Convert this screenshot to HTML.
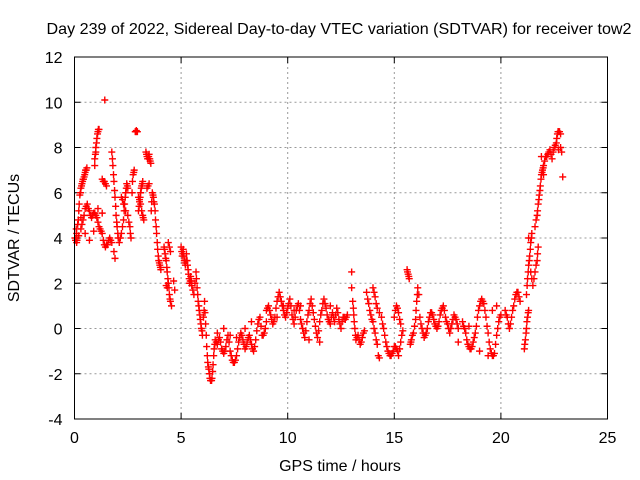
<!DOCTYPE html>
<html><head><meta charset="utf-8">
<style>
body{margin:0;background:#fff;}
svg{display:block;font-family:"Liberation Sans",sans-serif;}
</style></head>
<body>
<svg id="chart" width="640" height="480" viewBox="0 0 640 480">
<rect width="640" height="480" fill="#fff"/>
<text x="339" y="34" font-size="16" text-anchor="middle" fill="#000" textLength="585" lengthAdjust="spacingAndGlyphs">Day 239 of 2022, Sidereal Day-to-day VTEC variation (SDTVAR) for receiver tow2</text>
<g id="grid"></g>
<g id="ticks"></g>
<g id="points"></g>
<rect x="74.5" y="57" width="533" height="362" fill="none" stroke="#000" stroke-width="1"/>
<text x="340" y="471" font-size="16" text-anchor="middle">GPS time / hours</text>
<text x="0" y="0" font-size="16" text-anchor="middle" transform="translate(19,238) rotate(-90)">SDTVAR / TECUs</text>
</svg>
<script>
const xTicks=[0,5,10,15,20,25];
const yTicks=[-4,-2,0,2,4,6,8,10,12];
const segA=[[0.05,3.9],[0.1,4.2],[0.15,4.6],[0.2,5.2],[0.25,5.9],[0.3,6.2],[0.35,6.4],[0.4,6.6],[0.45,6.7],[0.5,6.9],[0.55,7.0],
[0.1,3.8],[0.2,4.1],[0.3,4.4],[0.4,4.8],[0.5,5.3],[0.6,5.5],[0.7,5.2],[0.8,4.9],[0.9,5.1],[1.0,5.0],[1.1,4.7],[1.2,4.4],[1.3,4.2],[1.35,3.9],[1.45,3.6],[1.55,3.7],[1.65,4.0],[1.75,3.8],[1.85,3.4],[1.9,3.1],
[0.3,4.9],[0.5,4.2],[0.7,3.9],[0.9,4.3],[1.1,5.3],[1.3,5.1],
[0.95,7.5],[1.0,8.0],[1.05,8.4],[1.1,8.7],[1.15,8.8],[1.0,7.8],[0.95,7.2],[1.42,10.1],[1.3,6.6],[1.4,6.5],[1.5,6.3]];
const segB=[[1.75,7.8],[1.8,7.2],[1.85,6.5],[1.9,5.8],[1.95,5.0],[2.0,4.5],[2.05,4.0],[2.1,3.8],[2.2,4.2],[2.3,4.8],[2.35,5.5],[2.4,6.0],[2.45,6.4],[2.5,6.2],[2.2,5.8],[2.3,5.5],[2.5,5.0],[2.6,4.5],[2.65,4.0],
[2.7,6.0],[2.75,6.8],[2.8,7.0],[2.85,8.7],[2.9,8.75],[2.95,8.7],[3.0,5.2],[3.05,5.6],[3.1,6.0],[3.15,6.3],[3.2,6.5],[3.0,5.8],[3.1,5.5],[3.2,5.0],[3.25,4.8],
[3.35,7.8],[3.4,7.6],[3.45,7.5],[3.5,7.7],[3.55,7.4],[3.4,6.2],[3.5,6.4],[3.6,5.2],[3.65,6.0],[3.7,5.8],[3.75,5.5],[3.8,4.8],[3.85,4.2],[3.9,3.5],[3.95,3.0],[4.0,2.8],[4.05,2.6],
[4.2,3.6],[4.25,3.3],[4.3,3.0],[4.35,2.5],[4.4,2.0],[4.45,1.5],[4.5,1.2],[4.55,1.0],[4.3,1.9],[4.4,3.8],[4.5,3.4],[4.65,2.1],[4.7,1.7]];
const segC=[[5.0,3.6],[5.05,3.2],[5.1,3.5],[5.15,3.0],[5.2,2.8],[5.25,3.3],[5.3,2.8],[5.35,2.4],[5.4,2.0],[5.45,2.3],[5.5,1.9],[5.6,1.5],[5.7,2.5],[5.75,1.8],[5.8,1.2],[5.85,0.8],[5.9,0.4],[5.95,0.0],[6.0,-0.3],[6.05,0.5],[6.1,1.2],[6.15,0.2],
[6.2,-0.8],[6.25,-1.5],[6.3,-1.8],[6.35,-2.2],[6.4,-2.3],[6.45,-2.2],[6.5,-1.6],[6.55,-0.9],[6.6,-0.5],[6.7,-0.7],[6.8,-0.4],[6.9,-0.9],[7.0,-1.1],[7.1,-0.8],[7.2,-0.3],[7.3,-1.0],[7.4,-1.4],[7.5,-1.5],[7.6,-1.2],[7.7,-0.6],[7.8,-0.2],[7.9,-0.5],[8.0,-0.9],[8.1,-0.6],[8.2,-0.3],[8.3,-0.7],[8.4,-1.0],[8.5,-0.5],[8.6,0.2],[8.7,0.5],[8.8,-0.3],[8.9,-0.2],[9.0,0.3],
[6.7,-0.2],[7.0,0.0],[7.3,-0.3],[7.6,-0.4],[8.0,0.0],[8.3,0.3]];
const segD=[[9.0,0.8],[9.1,1.0],[9.2,0.6],[9.3,0.2],[9.4,0.5],[9.5,1.2],[9.6,1.6],[9.7,1.2],[9.8,0.8],[9.9,0.5],[10.0,0.9],[10.1,1.3],[10.2,0.6],[10.3,0.2],[10.4,0.8],[10.5,1.1],[10.6,0.4],[10.7,0.0],[10.8,-0.4],[10.9,0.3],[11.0,0.8],[11.1,1.3],[11.2,0.7],[11.3,0.1],[11.4,-0.4],[11.5,0.3],[11.6,0.8],[11.7,1.3],[11.8,0.9],[11.9,0.4],[12.0,0.2],[12.1,0.7],[12.2,0.3],[12.3,0.9],[12.4,0.4],[12.5,0.0],[12.6,0.5],[12.7,0.4],[12.8,0.6],
[9.5,0.5],[9.8,1.0],[10.3,0.8],[10.6,1.0],[11.0,-0.5],[11.5,-0.6],[12.0,1.0]];
const segE=[[13.0,2.5],[13.0,1.8],[13.05,1.2],[13.1,0.6],[13.15,0.0],[13.2,-0.5],[13.3,-0.3],[13.4,-0.7],[13.5,-0.4],[13.6,-0.1],[13.7,1.6],[13.8,1.1],[13.9,0.6],[14.0,0.3],[14.1,-0.2],[14.2,-0.7],[14.25,-1.2],[14.3,-1.3],
[14.0,1.8],[14.1,1.4],[14.2,0.9],[14.4,0.5],[14.5,0.0],[14.6,-0.6],[14.7,-1.0],[14.8,-1.2],[14.9,-1.1],[15.0,-0.8],[15.1,-0.9],[15.2,-1.2],[15.3,-0.6],[15.4,-0.1],[15.0,0.5],[15.1,1.0],[15.2,0.7],[15.3,0.2],
[15.6,2.6],[15.65,2.4],[15.7,2.2],[15.75,-0.7],[15.8,-0.5],[15.9,-0.2],[16.0,0.4],[16.05,1.2],[16.1,1.8],[16.15,1.5]];
const segF=[[16.2,0.5],[16.3,0.0],[16.4,-0.4],[16.5,-0.2],[16.6,0.3],[16.7,0.7],[16.8,0.6],[16.9,0.2],[17.0,0.0],[17.1,0.3],[17.2,0.8],[17.3,1.0],[17.4,0.5],[17.5,0.2],[17.6,-0.2],[17.7,0.2],[17.8,0.6],[17.9,0.4],[18.0,0.0],
[18.2,0.3],[18.3,0.0],[18.4,-0.5],[18.5,-0.8],[18.6,-0.9],[18.7,-0.6],[18.8,-0.2],[18.9,0.5],[19.0,1.0],[19.1,1.3],[19.2,1.1],[19.3,0.5],[19.4,-0.2],[19.5,-0.9],[19.6,-1.2],[19.7,-1.1],[19.8,-0.3],[19.9,0.3],[20.0,0.6],[18.5,0.1],[19.0,-1.0],[19.4,-1.2],[19.6,0.8],[19.8,1.0],[18.0,-0.6],
[20.2,0.8],[20.3,0.5],[20.4,0.0],[20.5,0.5],[20.6,1.0],[20.7,1.5],[20.8,1.6],[20.9,1.2]];
const segG=[[21.1,-0.9],[21.15,-0.5],[21.2,0.0],[21.25,0.5],[21.3,0.8],[21.2,1.5],[21.25,2.2],[21.3,2.8],[21.35,3.2],[21.4,3.8],[21.45,4.2],[21.3,4.0],[21.4,2.5],[21.5,1.9],[21.6,2.5],[21.7,3.0],[21.75,3.6],
[21.6,4.5],[21.7,5.0],[21.75,5.5],[21.8,5.9],[21.85,6.3],[21.9,6.8],[21.95,7.0],[22.0,7.2],[21.9,7.6],[22.0,6.8],
[22.1,7.6],[22.2,7.7],[22.3,7.9],[22.4,7.5],[22.5,8.0],[22.6,8.2],[22.65,8.6],[22.7,8.7],[22.8,8.6],[22.85,7.8],[22.9,6.7],[22.7,7.9]];
const segExtra=[[0.02,4.0],[0.08,4.4],[0.12,3.9],[0.18,4.8],[0.22,5.5],[0.28,6.0],[0.33,6.3],[0.38,6.5],[0.42,6.6],[0.48,6.8],[0.52,7.0],[0.58,7.1],
[0.35,4.6],[0.45,5.0],[0.55,5.4],[0.65,5.3],[0.75,5.0],[0.85,5.0],[0.95,5.1],[1.05,4.9],[1.15,4.5],[1.25,4.3],[1.4,3.7],[1.5,3.7],[1.6,3.9],[1.7,3.9],
[0.98,7.7],[1.03,8.2],[1.08,8.6],[1.12,8.8],[1.45,6.4],[1.35,6.5],
[1.78,7.5],[1.83,6.8],[1.88,6.1],[1.93,5.4],[1.98,4.7],[2.03,4.2],[2.15,4.0],[2.25,4.5],[2.33,5.2],[2.38,5.8],[2.43,6.2],[2.48,6.3],[2.55,4.7],[2.25,5.7],[2.4,5.2],[2.62,4.2],
[2.72,6.5],[2.78,6.9],[2.88,8.7],[2.92,8.7],[3.03,5.4],[3.08,5.8],[3.13,6.2],[3.18,6.4],[3.05,5.7],[3.15,5.2],[3.22,4.9],
[3.38,7.7],[3.43,7.5],[3.48,7.6],[3.53,7.5],[3.58,7.3],[3.45,6.3],[3.62,5.6],[3.68,5.9],[3.72,5.6],[3.78,5.2],[3.83,4.5],[3.88,3.8],[3.93,3.2],[3.98,2.9],[4.03,2.7],
[4.22,3.5],[4.28,3.1],[4.33,2.7],[4.38,2.2],[4.43,1.8],[4.48,1.3],[4.35,1.8],[4.45,3.6],
[5.03,3.4],[5.08,3.3],[5.13,3.2],[5.18,2.9],[5.23,3.0],[5.28,3.0],[5.33,2.6],[5.38,2.2],[5.43,2.1],[5.48,2.1],[5.55,1.7],[5.65,2.0],[5.72,2.2],[5.78,1.5],[5.83,1.0],[5.88,0.6],[5.93,0.2],[5.98,-0.1],[6.08,0.8],[6.12,0.7],[6.18,-0.3],
[6.23,-1.2],[6.28,-1.7],[6.33,-2.0],[6.38,-2.3],[6.43,-2.3],[6.48,-1.9],[6.53,-1.2],[6.58,-0.7],[6.65,-0.6],[6.75,-0.5],[6.85,-0.6],[6.95,-1.0],[7.05,-1.0],[7.15,-0.5],[7.25,-0.6],[7.35,-1.2],[7.45,-1.5],[7.55,-1.4],[7.65,-0.9],[7.75,-0.4],[7.85,-0.3],[7.95,-0.7],[8.05,-0.8],[8.15,-0.4],[8.25,-0.5],[8.35,-0.9],[8.45,-0.8],[8.55,-0.1],[8.65,0.4],[8.75,0.1],[8.85,-0.3],[8.95,0.0],
[9.05,0.9],[9.15,0.8],[9.25,0.4],[9.35,0.3],[9.45,0.9],[9.55,1.4],[9.65,1.4],[9.75,1.0],[9.85,0.6],[9.95,0.7],[10.05,1.1],[10.15,1.0],[10.25,0.4],[10.35,0.5],[10.45,1.0],[10.55,0.8],[10.65,0.2],[10.75,-0.2],[10.85,-0.1],[10.95,0.6],[11.05,1.1],[11.15,1.0],[11.25,0.4],[11.35,-0.2],[11.45,-0.1],[11.55,0.6],[11.65,1.1],[11.75,1.1],[11.85,0.6],[11.95,0.3],[12.05,0.5],[12.15,0.5],[12.25,0.6],[12.35,0.7],[12.45,0.2],[12.55,0.3],[12.65,0.5],[12.75,0.5],
[13.08,0.9],[13.12,0.3],[13.18,-0.3],[13.25,-0.4],[13.35,-0.5],[13.45,-0.6],[13.55,-0.2],[13.75,1.3],[13.85,0.8],[13.95,0.4],[14.05,0.0],[14.15,-0.5],[14.05,1.6],[14.15,1.1],[14.3,0.7],[14.45,0.2],[14.55,-0.3],[14.65,-0.8],[14.75,-1.1],[14.85,-1.2],[14.95,-1.0],[15.05,-0.8],[15.15,-1.0],[15.25,-0.9],[15.35,-0.3],[15.05,0.8],[15.15,0.9],[15.25,0.4],
[15.62,2.5],[15.68,2.3],[15.78,-0.6],[15.85,-0.3],[15.95,0.1],[16.02,0.8],[16.08,1.5],
[16.25,0.2],[16.35,-0.2],[16.45,-0.3],[16.55,0.0],[16.65,0.5],[16.75,0.7],[16.85,0.4],[16.95,0.1],[17.05,0.1],[17.15,0.6],[17.25,0.9],[17.35,0.8],[17.45,0.3],[17.55,0.0],[17.65,0.0],[17.75,0.4],[17.85,0.5],[17.95,0.2],
[18.25,0.1],[18.35,-0.2],[18.45,-0.7],[18.55,-0.9],[18.65,-0.8],[18.75,-0.4],[18.85,0.1],[18.95,0.8],[19.05,1.2],[19.15,1.2],[19.25,0.8],[19.35,0.1],[19.45,-0.6],[19.55,-1.1],[19.65,-1.2],[19.75,-0.7],[19.85,0.0],[19.95,0.5],
[20.25,0.6],[20.35,0.2],[20.45,0.2],[20.55,0.8],[20.65,1.3],[20.75,1.6],[20.85,1.4],
[21.12,-0.7],[21.18,-0.2],[21.22,0.3],[21.28,0.7],[21.23,1.9],[21.28,2.5],[21.33,3.0],[21.38,3.5],[21.43,4.0],[21.45,2.2],[21.55,2.2],[21.65,2.8],[21.72,3.3],
[21.65,4.8],[21.72,5.2],[21.78,5.7],[21.83,6.1],[21.88,6.6],[21.93,6.9],[21.98,7.1],[22.05,7.4],[22.15,7.6],[22.25,7.8],[22.35,7.7],[22.45,7.8],[22.55,8.1],[22.62,8.4],[22.68,8.7],[22.75,8.7],[22.8,8.0]];

const X0=74.5,X1=607.5,Y0=419,Y1=57;
function xs(t){return X0+(t-0)/(25-0)*(X1-X0);}
function ys(v){return Y0-(v-(-4))/(12-(-4))*(Y0-Y1);}
const NS="http://www.w3.org/2000/svg";
const grid=document.getElementById('grid'),ticks=document.getElementById('ticks'),pg=document.getElementById('points');
function mk(tag,attrs,parent){const e=document.createElementNS(NS,tag);for(const k in attrs)e.setAttribute(k,attrs[k]);parent.appendChild(e);return e;}
xTicks.forEach(t=>{
  const x=xs(t);
  if(t>0&&t<25){const g=mk('line',{x1:x,x2:x,y1:Y1,y2:Y0,stroke:'#999','stroke-dasharray':'2,3'},grid);
  
  }
  mk('line',{x1:x,x2:x,y1:Y0,y2:Y0-6,stroke:'#000'},ticks);
  mk('line',{x1:x,x2:x,y1:Y1,y2:Y1+6,stroke:'#000'},ticks);
  const tx=mk('text',{x:x,y:Y0+24,'font-size':'16','text-anchor':'middle'},ticks);
  tx.textContent=t;
  
  
});
yTicks.forEach(v=>{
  const y=ys(v);
  if(v>-4&&v<12){const g=mk('line',{x1:X0,x2:X1,y1:y,y2:y,stroke:'#999','stroke-dasharray':'2,3'},grid);
  
  }
  mk('line',{x1:X0,x2:X0+6,y1:y,y2:y,stroke:'#000'},ticks);
  mk('line',{x1:X1,x2:X1-6,y1:y,y2:y,stroke:'#000'},ticks);
  const tx=mk('text',{x:X0-12,y:y+6,'font-size':'16','text-anchor':'end'},ticks);
  tx.textContent=v;
  
  
});
[segA,segB,segC,segD,segE,segF,segG,segExtra].forEach(seg=>{
  seg.forEach(p=>{
    const x=xs(p[0]),y=ys(p[1]);
    const m=mk('path',{d:`M${x-3.5},${y}H${x+3.5}M${x},${y-3.5}V${y+3.5}`,stroke:'#f00','stroke-width':'1.4',fill:'none'},pg);
    
    
  });
});
</script>
</body></html>
